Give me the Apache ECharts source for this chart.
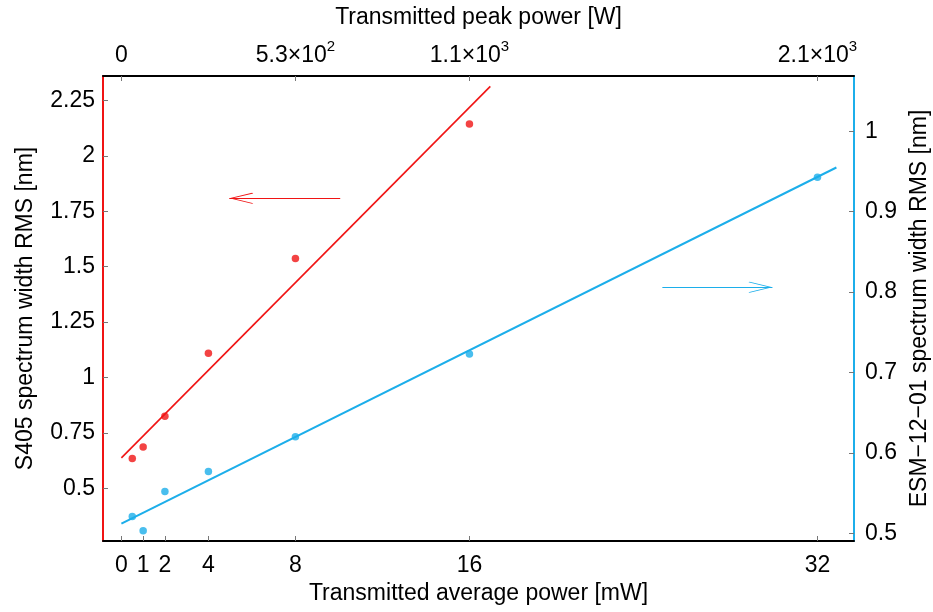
<!DOCTYPE html>
<html><head><meta charset="utf-8">
<script src="https://cdn.jsdelivr.net/npm/echarts@6/dist/echarts.min.js"></script>
<style>html,body{margin:0;padding:0;background:#fff}#c{width:933px;height:612px}</style>
</head><body><div id="c"></div>
<script>
// ---- data ----
const s405X = [0.5, 1, 2, 4, 8, 16];
const s405Values = [0.634, 0.686, 0.825, 1.109, 1.537, 2.143];
const esmX = [0.5, 1, 2, 4, 8, 16, 32];
const esmValues = [0.521, 0.503, 0.552, 0.577, 0.620, 0.723, 0.943];
const s405FitX = [0, 16.96];
const s405FitY = [0.637, 2.313];
const esmFitX = [0, 32.87];
const esmFitY = [0.512, 0.955];
const bottomTicks = [0, 1, 2, 4, 8, 16, 32];
const topTicks = [0, 8, 16, 32];
const topTickBase = ['0', '5.3\u00d710', '1.1\u00d710', '2.1\u00d710'];
const topTickExp = ['', '2', '3', '3'];
const leftTicks = [0.5, 0.75, 1, 1.25, 1.5, 1.75, 2, 2.25];
const rightTicks = [0.5, 0.6, 0.7, 0.8, 0.9, 1];
// annotation arrows (data coordinates)
const redArrowX = [10.06, 4.96];
const redArrowY = [1.808, 1.808];
const blueArrowX = [24.87, 29.93];
const blueArrowY = [0.806, 0.806];

const RED = '#f01414';
const BLUE = '#1caeea';
const FONT = "'Liberation Sans', Arial, sans-serif";
const FS = 23;
const chevron = 'path://M10 0 L20 19 L19 20 L10 3 L1 20 L0 19 Z';

const zip = (a, b) => a.map((v, i) => [v, b[i]]);

const chart = echarts.init(document.getElementById('c'), null, {renderer: 'canvas'});
const tickStyle = {show: true, inside: true, length: 5, lineStyle: {color: '#777', width: 1}};
const labelBase = {color: '#000', fontSize: FS, fontFamily: FONT};
const nameBase = {color: '#000', fontSize: FS, fontFamily: FONT};

chart.setOption({
  animation: false,
  backgroundColor: '#fff',
  grid: {left: 103, right: 79, top: 76, bottom: 71, containLabel: false, outerBoundsMode: 'none'},
  xAxis: [
    {
      type: 'value', position: 'bottom', min: -0.846, max: 33.68,
      axisLine: {show: true, onZero: false, lineStyle: {color: '#000', width: 2}},
      axisTick: Object.assign({}, tickStyle, {customValues: bottomTicks}),
      axisLabel: Object.assign({}, labelBase, {customValues: bottomTicks, margin: 13}),
      splitLine: {show: false},
      name: 'Transmitted average power [mW]', nameLocation: 'middle', nameGap: 41,
      nameTextStyle: nameBase
    },
    {
      type: 'value', position: 'top', min: -0.846, max: 33.68,
      axisLine: {show: true, onZero: false, lineStyle: {color: '#000', width: 2}},
      axisTick: Object.assign({}, tickStyle, {customValues: topTicks}),
      axisLabel: Object.assign({}, labelBase, {
        customValues: topTicks, margin: 9,
        formatter: function (v) {
          const i = topTicks.indexOf(v);
          if (i < 0) return '';
          return topTickExp[i] ? '{b|' + topTickBase[i] + '}{s|' + topTickExp[i] + '}' : '{b|' + topTickBase[i] + '}';
        },
        rich: {
          b: {fontSize: FS, fontFamily: FONT, color: '#000', lineHeight: 28, verticalAlign: 'bottom'},
          s: {fontSize: 15, fontFamily: FONT, color: '#000', lineHeight: 15, verticalAlign: 'top'}
        }
      }),
      splitLine: {show: false},
      name: 'Transmitted peak power [W]', nameLocation: 'middle', nameGap: 47,
      nameTextStyle: nameBase
    }
  ],
  yAxis: [
    {
      type: 'value', position: 'left', min: 0.262, max: 2.36,
      axisLine: {show: true, onZero: false, lineStyle: {color: RED, width: 2}},
      axisTick: Object.assign({}, tickStyle, {customValues: leftTicks}),
      axisLabel: Object.assign({}, labelBase, {customValues: leftTicks, margin: 8}),
      splitLine: {show: false},
      name: 'S405 spectrum width RMS [nm]', nameLocation: 'middle', nameGap: 66, nameRotate: 90,
      nameTextStyle: nameBase
    },
    {
      type: 'value', position: 'right', min: 0.4904, max: 1.0688,
      axisLine: {show: true, onZero: false, lineStyle: {color: BLUE, width: 2}},
      axisTick: Object.assign({}, tickStyle, {customValues: rightTicks}),
      axisLabel: Object.assign({}, labelBase, {customValues: rightTicks, margin: 11}),
      splitLine: {show: false},
      name: 'ESM\u221212\u221201 spectrum width RMS [nm]', nameLocation: 'middle', nameGap: 50, nameRotate: 90,
      nameTextStyle: nameBase
    }
  ],
  series: [
    {
      type: 'line', xAxisIndex: 0, yAxisIndex: 0, data: zip(s405FitX, s405FitY),
      showSymbol: false, symbol: 'none', lineStyle: {color: RED, width: 1.6}, silent: true, z: 2
    },
    {
      type: 'scatter', xAxisIndex: 0, yAxisIndex: 0, data: zip(s405X, s405Values),
      symbol: 'circle', symbolSize: 7.5, itemStyle: {color: RED}, z: 3,
      markLine: {
        silent: true, animation: false,
        symbol: ['none', chevron], symbolSize: [11, 24],
        symbolOffset: [[0, 0], [0, '50%']],
        label: {show: false},
        lineStyle: {color: RED, width: 1, type: 'solid'},
        emphasis: {disabled: true},
        data: [[{coord: [redArrowX[0], redArrowY[0]]}, {coord: [redArrowX[1], redArrowY[1]]}]]
      }
    },
    {
      type: 'line', xAxisIndex: 0, yAxisIndex: 1, data: zip(esmFitX, esmFitY),
      showSymbol: false, symbol: 'none', lineStyle: {color: BLUE, width: 2}, silent: true, z: 2
    },
    {
      type: 'scatter', xAxisIndex: 0, yAxisIndex: 1, data: zip(esmX, esmValues),
      symbol: 'circle', symbolSize: 7.5, itemStyle: {color: BLUE}, z: 3,
      markLine: {
        silent: true, animation: false,
        symbol: ['none', chevron], symbolSize: [11, 24],
        symbolOffset: [[0, 0], [0, '50%']],
        label: {show: false},
        lineStyle: {color: BLUE, width: 1, type: 'solid'},
        emphasis: {disabled: true},
        data: [[{coord: [blueArrowX[0], blueArrowY[0]]}, {coord: [blueArrowX[1], blueArrowY[1]]}]]
      }
    }
  ]
});
</script>
</body></html>
